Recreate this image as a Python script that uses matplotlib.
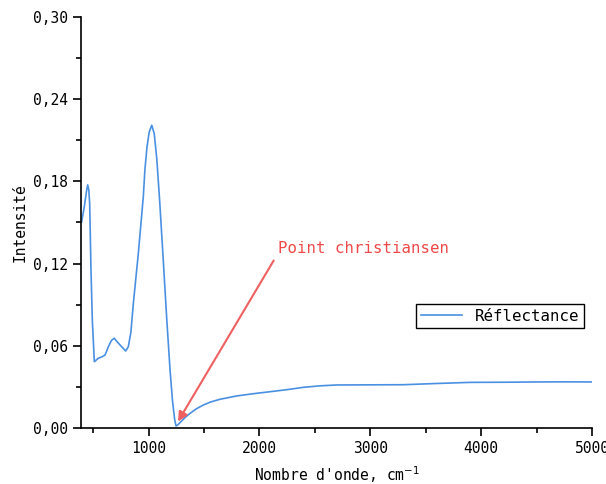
import matplotlib
matplotlib.use('Agg')
import matplotlib.pyplot as plt
from matplotlib.ticker import FuncFormatter, MultipleLocator

# spectrum (wavenumber, intensity)
wavenumber = [396, 420, 438, 450, 460, 468, 480, 492, 510, 546, 580, 607, 637,
              665, 690, 715, 742, 793, 817, 840, 862, 907, 952, 966, 985, 1005,
              1028, 1050, 1073, 1100, 1133, 1163, 1193, 1215, 1235, 1247, 1262,
              1290, 1330, 1374, 1430, 1494, 1560, 1645, 1795, 1950, 2096, 2250,
              2396, 2550, 2697, 3000, 3299, 3600, 3900, 4200, 4503, 4750, 5000]
intensity = [0.1506, 0.1617, 0.172, 0.1775, 0.174, 0.164, 0.1153, 0.0788, 0.0484,
             0.0509, 0.052, 0.0533, 0.0594, 0.064, 0.0655, 0.063, 0.0606, 0.0562,
             0.0594, 0.070, 0.091, 0.1275, 0.169, 0.1883, 0.205, 0.216, 0.221,
             0.215, 0.197, 0.165, 0.121, 0.080, 0.0424, 0.020, 0.006, 0.0015,
             0.0022, 0.0045, 0.0078, 0.0107, 0.0140, 0.0168, 0.019, 0.021, 0.0234,
             0.0251, 0.0265, 0.028, 0.0297, 0.0308, 0.0314, 0.0315, 0.0316, 0.0325,
             0.0333, 0.0334, 0.0336, 0.0337, 0.0336]

annot_text = "Point christiansen"
annot_xy = (1252, 0.0030)
annot_tail = (2141, 0.124)
annot_text_pos = (2168, 0.1255)

plt.rcParams['font.family'] = ['DejaVu Sans Mono']

fig = plt.figure(figsize=(6.06, 4.84), dpi=100)
ax = fig.add_axes([0.1337, 0.1157, 0.977 - 0.1337, 0.9649 - 0.1157])

ax.plot(wavenumber, intensity, color='#4a90e2', lw=1.2, label='Réflectance')

ax.annotate('', xy=annot_xy, xytext=annot_tail,
            arrowprops=dict(arrowstyle='-|>', color='#f06060', lw=1.5, mutation_scale=14))
ax.text(annot_text_pos[0], annot_text_pos[1], annot_text, color='#f04848', fontsize=11.3,
        ha='left', va='bottom')

ax.set_xlim(390, 5000)
ax.set_ylim(0, 0.30)
ax.xaxis.set_major_locator(MultipleLocator(1000))
ax.xaxis.set_minor_locator(MultipleLocator(500))
ax.yaxis.set_major_locator(MultipleLocator(0.06))
ax.yaxis.set_minor_locator(MultipleLocator(0.03))
ax.yaxis.set_major_formatter(FuncFormatter(lambda v, p: f'{v:.2f}'.replace('.', ',')))

for side in ['top', 'right']:
    ax.spines[side].set_visible(False)
for side in ['left', 'bottom']:
    ax.spines[side].set_linewidth(1.2)
ax.tick_params(which='major', direction='out', length=6, width=1.2, labelsize=10.5)
ax.tick_params(which='minor', direction='out', length=3.5, width=1.2)

ax.set_xlabel("Nombre d'onde, cm$^{-1}$", fontsize=10.5, labelpad=6)
ax.set_ylabel('Intensité', fontsize=10.5, labelpad=4)

leg = ax.legend(loc='center', bbox_to_anchor=(0.82, 0.272), fontsize=11.3, fancybox=False,
                edgecolor='black', framealpha=1, handlelength=2.6, borderpad=0.3)
leg.get_frame().set_linewidth(1.0)

fig.savefig('out.png', dpi=100)
